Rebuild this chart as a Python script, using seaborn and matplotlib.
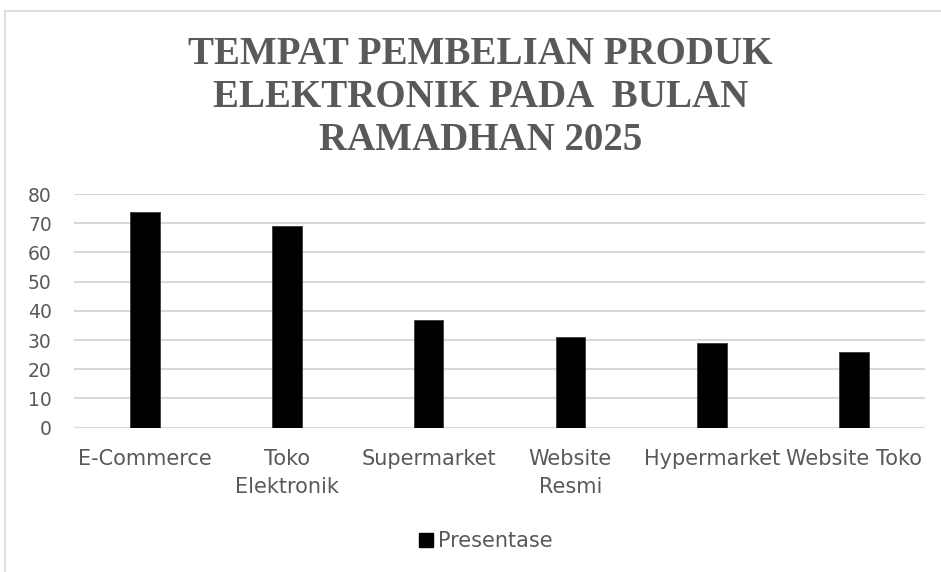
import matplotlib
matplotlib.use("Agg")
import matplotlib.pyplot as plt
from matplotlib.patches import Rectangle, Patch
import seaborn as sns
import pandas as pd

# Data
categories = ["E-Commerce", "Toko\nElektronik", "Supermarket", "Website\nResmi",
              "Hypermarket", "Website Toko"]
presentase = [74, 69, 37, 31, 29, 26]
series_name = "Presentase"
title_lines = ["TEMPAT PEMBELIAN PRODUK", "ELEKTRONIK PADA  BULAN", "RAMADHAN 2025"]
y_ticks = [0, 10, 20, 30, 40, 50, 60, 70, 80]

df = pd.DataFrame({"Tempat": categories, series_name: presentase})

sns.set_theme(style="white")
plt.rcParams["font.family"] = ["DejaVu Sans"]

W, H = 941, 572
fig = plt.figure(figsize=(W / 100, H / 100), dpi=100)
fig.patch.set_facecolor("white")

# Chart area outline
fig.add_artist(Rectangle((5 / W, -0.05), 1.2, 1 - 11 / H + 0.05,
                         transform=fig.transFigure, fill=False,
                         edgecolor="#d9d9d9", linewidth=1.2))

ax = fig.add_axes([74 / W, 1 - 427.7 / H, (925 - 74) / W, (427.7 - 194) / H])
sns.barplot(data=df, x="Tempat", y=series_name, color="black", width=0.21,
            edgecolor="#3a3a3a", linewidth=0.6, saturation=1,
            ax=ax, legend=False)

ax.set_ylim(0, 80)
ax.set_yticks(y_ticks)
ax.set_xlim(-0.5, len(categories) - 0.5)
ax.yaxis.grid(True, color="#d9d9d9", linewidth=1.5)
ax.set_axisbelow(True)
for s in ax.spines.values():
    s.set_visible(False)
ax.set_xlabel("")
ax.set_ylabel("")
ax.tick_params(axis="y", length=0, pad=16, labelsize=13.5, labelcolor="#595959")
ax.tick_params(axis="x", length=0, pad=15.5, labelsize=15, labelcolor="#595959")
for lbl in ax.get_xticklabels():
    lbl.set_linespacing(1.5)

# Title
for i, line in enumerate(title_lines):
    fig.text(480.5 / W, 1 - (54.5 + 43 * i) / H, line, ha="center", va="center",
             fontsize=28.1, fontweight="bold", color="#595959",
             family=["Liberation Serif", "DejaVu Serif"])

# Legend
fig.legend([Patch(facecolor="black", edgecolor="black")], [series_name],
           loc="center", bbox_to_anchor=(485.5 / W, 1 - 541 / H), frameon=False,
           fontsize=15, labelcolor="#595959", handlelength=0.67, handleheight=0.67,
           handletextpad=0.25, borderpad=0, borderaxespad=0)

fig.savefig("out.png", dpi=100, facecolor="white")
